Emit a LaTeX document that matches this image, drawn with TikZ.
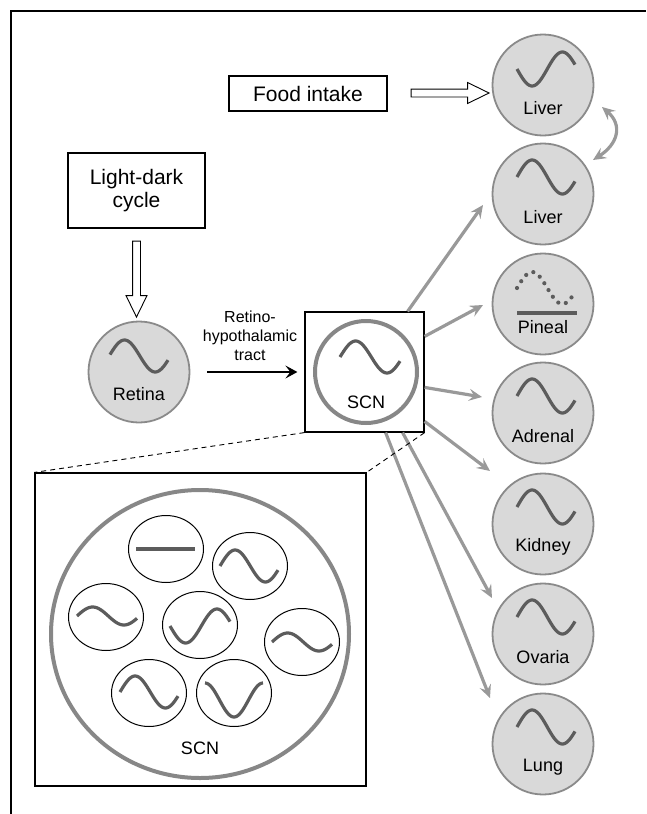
\documentclass[tikz,border=0pt]{standalone}
\usepackage{fontspec}
\setmainfont{Liberation Sans}
\usetikzlibrary{calc,arrows.meta,shapes.arrows,shapes.geometric}
\definecolor{orgfill}{gray}{0.85}
\definecolor{orgline}{gray}{0.54}
\definecolor{wavecol}{gray}{0.36}
\definecolor{arrcol}{gray}{0.60}
\definecolor{ringcol}{gray}{0.53}
\begin{document}
\begin{tikzpicture}[x=1pt,y=-1pt,
  organ/.style={circle, draw=orgline, fill=orgfill, line width=1.8pt, minimum size=101pt, inner sep=0pt},
  lbl/.style={font=\fontsize{18}{20}\selectfont, inner sep=0pt},
  boxtxt/.style={draw, line width=1.1pt, align=center, inner sep=0pt, font=\fontsize{21}{23}\selectfont},
  wavestyle/.style={draw=wavecol, line width=3.2pt},
  grayarrow/.style={draw=arrcol, line width=3.2pt, -{Stealth[length=13pt,width=12pt,inset=5pt]}},
  grayboth/.style={draw=arrcol, line width=3.2pt, {Stealth[length=13pt,width=12pt,inset=5pt]}-{Stealth[length=13pt,width=12pt,inset=5pt]}},
  blackarrow/.style={draw=black, line width=2.6pt, -{Stealth[length=12pt,width=13pt,inset=5pt]}},
  hollow/.style={single arrow, draw, line width=0.9pt, fill=white, inner xsep=0pt, inner ysep=3.5pt, minimum width=0pt, single arrow head extend=6.5pt, single arrow tip angle=52},
  cell/.style={ellipse, draw, line width=1pt, fill=white, minimum width=75pt, minimum height=67pt, inner sep=0pt},
  pics/wave/.style n args={4}{code={\draw[wavestyle] plot[domain=#3:#4,samples=50,variable=\t] ({-#1+2*#1*((\t-(#3))/((#4)-(#3)))},{-(#2)*sin(\t)});}},
  pics/dotwave/.style n args={4}{code={\draw[draw=wavecol, line width=4.2pt, line cap=round, dash pattern=on 0pt off 8pt] plot[domain=#3:#4,samples=50,variable=\t] ({-#1+2*#1*((\t-(#3))/((#4)-(#3)))},{-(#2)*sin(\t)});}}
]
\useasboundingbox (0,0) rectangle (646,814);
% outer frame (top and left)
\draw[line width=2pt] (11,814) -- (11,11) -- (646,11);

% boxes
\node[boxtxt, minimum width=158pt, minimum height=35pt] (food) at (308,93.5) {Food intake};
\node[boxtxt, minimum width=137pt, minimum height=75pt] (light) at (136.5,190.5) {Light-dark\\cycle};

% organ circles
\node[organ] (liver1) at (543,85) {};
\node[organ] (liver2) at (543,194) {};
\node[organ] (pineal) at (543,304) {};
\node[organ] (adrenal) at (543,413) {};
\node[organ] (kidney) at (543,524) {};
\node[organ] (ovaria) at (543,634) {};
\node[organ] (lung) at (543,744) {};
\node[organ] (retina) at (139,372) {};

\node[lbl] (liver1l) at ($(liver1)+(0,23)$) {Liver};
\node[lbl] (liver2l) at ($(liver2)+(0,23)$) {Liver};
\node[lbl] (pineall) at ($(pineal)+(0,23)$) {Pineal};
\node[lbl] (adrenall) at ($(adrenal)+(0,23)$) {Adrenal};
\node[lbl] (kidneyl) at ($(kidney)+(0,23)$) {Kidney};
\node[lbl] (ovarial) at ($(ovaria)+(0,23)$) {Ovaria};
\node[lbl] (lungl) at ($(lung)+(0,23)$) {Lung};
\node[lbl] (retinal) at ($(retina)+(0,22)$) {Retina};

% waves in organ circles
\pic at ($(liver1)+(3,-16)$) {wave={29}{-17}{0}{345}};
\pic at ($(liver2)+(3,-17)$) {wave={29}{17}{0}{345}};
\pic at ($(adrenal)+(3,-17)$) {wave={29}{17}{0}{345}};
\pic at ($(kidney)+(3,-17)$) {wave={29}{17}{0}{345}};
\pic at ($(ovaria)+(3,-17)$) {wave={29}{17}{0}{345}};
\pic at ($(lung)+(3,-17)$) {wave={29}{17}{0}{345}};
\pic at ($(retina)+(0,-16)$) {wave={29}{16}{5}{345}};
\pic at ($(pineal)+(3,-16)$) {dotwave={29}{16}{0}{345}};
\draw[wavestyle, line width=3.6pt] ($(pineal)+(-26,9)$) -- ($(pineal)+(34,9)$);

% SCN box
\node[draw, line width=1.2pt, fill=white, minimum width=119pt, minimum height=120pt, inner sep=0pt] (scnbox) at (364.5,372) {};
\node[circle, draw=ringcol, line width=4pt, fill=white, minimum size=102pt, inner sep=0pt] (scn) at (366,372) {};
\pic at ($(scn)+(4,-15)$) {wave={30}{16}{0}{345}};
\node[lbl] (scnl) at ($(scn)+(0,30)$) {SCN};

% retino-hypothalamic tract
\node[align=center, inner sep=0pt, font=\fontsize{16}{19}\selectfont] (rht) at (250,336) {Retino-\\hypothalamic\\tract};
\draw[blackarrow, shorten <=17pt, shorten >=7pt] (retina.east) -- (scnbox.west);

% hollow arrows
\node[hollow, minimum height=78pt] (foodarrow) at (446,93) {};
\node[hollow, minimum height=76pt, rotate=-90] (lightarrow) at (136.5,275) {};

% gray arrows from SCN
\draw[grayarrow] ($(scnbox.north east)+(-17,0)$) -- ($(liver2)+(-60,11)$);
\draw[grayarrow] ($(scnbox.north east)+(0,25)$) -- ($(pineal)+(-60,1)$);
\draw[grayarrow] ($(scnbox.north east)+(0,76)$) -- ($(adrenal)+(-61,-16)$);
\draw[grayarrow] ($(scnbox.north east)+(0,110)$) -- ($(kidney)+(-53,-53)$);
\draw[grayarrow] ($(scnbox.south east)+(-22,0)$) -- ($(ovaria)+(-51,-36)$);
\draw[grayarrow] ($(scnbox.south east)+(-39,0)$) -- ($(lung)+(-53,-46)$);
\draw[grayboth] ($(liver1)+(59,22)$) .. controls ($(liver1)+(80,40)$) and ($(liver2)+(75,-50)$) .. ($(liver2)+(50,-34)$);

% enlarged SCN
\node[draw, line width=1.2pt, minimum width=331pt, minimum height=313pt, inner sep=0pt] (bigbox) at (200.5,629.5) {};
\draw[dashed, line width=0.9pt, dash pattern=on 5pt off 4pt] (scnbox.south west) -- (bigbox.north west);
\draw[dashed, line width=0.9pt, dash pattern=on 5pt off 4pt] (scnbox.south east) -- (bigbox.north east);
\node[ellipse, draw=ringcol, line width=4pt, minimum width=298pt, minimum height=288pt, inner sep=0pt] (bigscn) at (200,634) {};
\node[lbl] (bigscnl) at (200,748) {SCN};

\node[cell] (c1) at (166,549) {};
\node[cell] (c2) at (250,566) {};
\node[cell] (c3) at (106,617) {};
\node[cell] (c4) at (200,625) {};
\node[cell] (c5) at (302,642) {};
\node[cell] (c6) at (149,693) {};
\node[cell] (c7) at (234,693) {};
\draw[wavestyle] ($(c1)+(-30,0)$) -- ($(c1)+(29,0)$);
\pic at ($(c2)+(-1,0)$) {wave={29}{16}{0}{345}};
\pic at ($(c3)+(1,-1)$) {wave={30}{9}{0}{345}};
\pic at ($(c4)+(0,1)$) {wave={30}{-17}{0}{345}};
\pic at ($(c5)+(0,0)$) {wave={30}{9}{0}{345}};
\pic at ($(c6)+(0,-1)$) {wave={29}{16}{0}{345}};
\pic at ($(c7)+(0,7)$) {wave={29}{17}{90}{450}};
\end{tikzpicture}
\end{document}
